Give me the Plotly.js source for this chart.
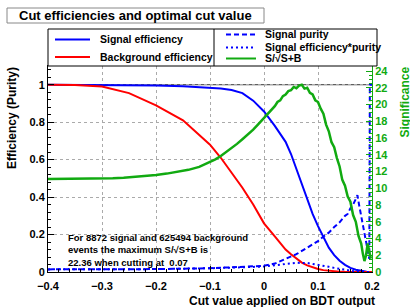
<!DOCTYPE html>
<html><head><meta charset="utf-8">
<script src="https://cdn.plot.ly/plotly-3.0.1.min.js"></script>
<style>html,body{margin:0;padding:0;background:#fff}</style>
</head><body><div id="chart" style="width:410px;height:307px"></div>
<script>
// ---- data ----
const effX   = [-0.40,-0.35,-0.30,-0.25,-0.20,-0.15,-0.10,-0.08,-0.06,-0.04,-0.02,0.00,0.02,0.04,0.05,0.06,0.07,0.08,0.09,0.10,0.11,0.12,0.13,0.14,0.15,0.16,0.17,0.18,0.19,0.20];
const sigEff = [1.000,1.000,0.999,0.998,0.996,0.992,0.985,0.980,0.972,0.955,0.915,0.857,0.780,0.695,0.630,0.550,0.460,0.385,0.310,0.245,0.185,0.130,0.090,0.060,0.038,0.022,0.012,0.005,0.001,0.000];
const bkgEff = [1.000,0.999,0.990,0.955,0.890,0.810,0.680,0.610,0.530,0.450,0.360,0.260,0.190,0.120,0.095,0.070,0.050,0.035,0.024,0.016,0.010,0.006,0.004,0.002,0.001,0.0005,0.0002,0.0001,0,0];

const purX   = [-0.40,-0.30,-0.20,-0.10,-0.05,0.00,0.02,0.04,0.06,0.08,0.10,0.11,0.12,0.13,0.14,0.15,0.155,0.16,0.165,0.17,0.173,0.176,0.18,0.185,0.19,0.193,0.195,0.196,0.198,0.20];
const purity = [0.014,0.014,0.0155,0.020,0.025,0.033,0.045,0.068,0.095,0.130,0.165,0.190,0.210,0.240,0.265,0.300,0.310,0.340,0.360,0.390,0.410,0.360,0.300,0.220,0.150,0.110,0.070,1.000,1.000,1.000];
const effPur = [0.014,0.014,0.0155,0.020,0.024,0.029,0.036,0.044,0.049,0.048,0.040,0.035,0.028,0.022,0.016,0.011,0.009,0.007,0.005,0.004,0.003,0.002,0.0015,0.001,0.0005,0.0003,0.0002,0.0001,0,0];

const sigX = [-0.40,-0.38,-0.36,-0.34,-0.32,-0.30,-0.28,-0.26,-0.24,-0.22,-0.20,-0.18,-0.16,-0.14,-0.12,-0.10,-0.09,-0.08,-0.07,-0.06,-0.05,-0.04,-0.03,-0.02,-0.01,0.000,0.005,0.010,0.015,0.020,0.025,0.030,0.035,0.040,0.045,0.050,0.055,0.060,0.065,0.070,0.075,0.080,0.085,0.090,0.095,0.100,0.105,0.110,0.115,0.120,0.125,0.130,0.135,0.140,0.145,0.150,0.155,0.160,0.165,0.170,0.175,0.180,0.183,0.186,0.189,0.192,0.195,0.198];
const significance = [11.12,11.12,11.12,11.13,11.14,11.16,11.20,11.26,11.34,11.45,11.58,11.75,11.95,12.2,12.55,13.1,13.45,13.85,14.3,14.8,15.3,15.85,16.4,17.0,17.7,18.4,18.8,19.1,19.55,19.8,20.3,20.5,21.0,21.2,21.6,21.7,22.1,21.95,22.25,22.36,21.9,22.0,21.4,21.2,20.5,20.3,19.5,18.9,17.6,16.8,15.5,14.9,13.6,12.6,11.0,10.3,9.0,8.4,6.8,6.0,4.3,3.4,2.2,1.3,2.0,3.4,2.4,1.6];

const xTicks = [-0.4,-0.3,-0.2,-0.1,0,0.1,0.2];
const xTickText = ['\u22120.4','\u22120.3','\u22120.2','\u22120.1','0','0.1','0.2'];
const yTicks = [0,0.2,0.4,0.6,0.8,1];
const yTickText = ['0','0.2','0.4','0.6','0.8','1'];
const y2Ticks = [0,2,4,6,8,10,12,14,16,18,20,22,24];

const legendLabels = ['Signal efficiency','Background efficiency','Signal purity','Signal efficiency*purity','S/\u221AS+B'];
const titleText = 'Cut efficiencies and optimal cut value';
const infoText = 'For 8872 signal and 625494 background<br>events the maximum S/\u221AS+B is<br>22.36 when cutting at  0.07';

// ---- styling ----
const F = 'Liberation Sans, Arial, Helvetica, sans-serif';
const GREEN = '#11aa11';
const px = x => (x-48)/324;
const py = y => (272-y)/206;

const traces = [
  {x:effX, y:sigEff, mode:'lines', line:{color:'#0000ff', width:2}},
  {x:effX, y:bkgEff, mode:'lines', line:{color:'#ff0000', width:2}},
  {x:purX, y:purity, mode:'lines', line:{color:'#0000ff', width:2, dash:'5px,3px'}},
  {x:purX, y:effPur, mode:'lines', line:{color:'#0000ff', width:2, dash:'2px,3px'}},
  {x:sigX, y:significance, mode:'lines', yaxis:'y2', line:{color:GREEN, width:2.5}}
];

const shapes = [
  {type:'line', xref:'x', yref:'y', x0:-0.4, x1:0.2, y0:1, y1:1, line:{color:'#333', width:1}, layer:'below'},
  // title box
  {type:'rect', xref:'paper', yref:'paper', x0:px(7), x1:px(264), y0:py(23), y1:py(8), line:{color:'#888', width:1}, fillcolor:'#fff'},
  // legend box
  {type:'rect', xref:'paper', yref:'paper', x0:px(48), x1:px(377), y0:py(66), y1:py(29), line:{color:'#000', width:1}, fillcolor:'#fff'},
  {type:'line', xref:'paper', yref:'paper', x0:px(214), x1:px(214), y0:py(66), y1:py(29), line:{color:'#000', width:1}},
  // legend samples
  {type:'line', xref:'paper', yref:'paper', x0:px(55), x1:px(90), y0:py(39.5), y1:py(39.5), line:{color:'#0000ff', width:2}},
  {type:'line', xref:'paper', yref:'paper', x0:px(55), x1:px(90), y0:py(57), y1:py(57), line:{color:'#ff0000', width:2}},
  {type:'line', xref:'paper', yref:'paper', x0:px(226), x1:px(256), y0:py(34.5), y1:py(34.5), line:{color:'#0000ff', width:2, dash:'5px,3px'}},
  {type:'line', xref:'paper', yref:'paper', x0:px(226), x1:px(256), y0:py(47.5), y1:py(47.5), line:{color:'#0000ff', width:2, dash:'2px,3px'}},
  {type:'line', xref:'paper', yref:'paper', x0:px(226), x1:px(256), y0:py(58.5), y1:py(58.5), line:{color:GREEN, width:2}}
];

const lf = {family:F, size:10.5, color:'#000', weight:'bold'};
const annotations = [
  {xref:'paper', yref:'paper', x:px(17), y:py(15.5), xanchor:'left', yanchor:'middle', text:titleText, showarrow:false, font:{family:F, size:13, color:'#000', weight:'bold'}},
  {xref:'paper', yref:'paper', x:px(98), y:py(39.5), xanchor:'left', yanchor:'middle', text:legendLabels[0], showarrow:false, font:lf},
  {xref:'paper', yref:'paper', x:px(98), y:py(57), xanchor:'left', yanchor:'middle', text:legendLabels[1], showarrow:false, font:lf},
  {xref:'paper', yref:'paper', x:px(263), y:py(34), xanchor:'left', yanchor:'middle', text:legendLabels[2], showarrow:false, font:lf},
  {xref:'paper', yref:'paper', x:px(263), y:py(47.5), xanchor:'left', yanchor:'middle', text:legendLabels[3], showarrow:false, font:lf},
  {xref:'paper', yref:'paper', x:px(263), y:py(58.5), xanchor:'left', yanchor:'middle', text:legendLabels[4], showarrow:false, font:lf},
  {xref:'paper', yref:'paper', x:px(66), y:py(250), xanchor:'left', yanchor:'middle', align:'left', text:infoText, showarrow:false, font:{family:F, size:9.5, color:'#000', weight:'bold'}},
  {xref:'paper', yref:'paper', x:px(377), y:py(301), xanchor:'right', yanchor:'middle', text:'Cut value applied on BDT output', showarrow:false, font:{family:F, size:12, color:'#000', weight:'bold'}},
  {xref:'paper', yref:'paper', x:px(12), y:py(65), xanchor:'center', yanchor:'top', textangle:-90, text:'Efficiency (Purity)', showarrow:false, font:{family:F, size:12, color:'#000', weight:'bold'}},
  {xref:'paper', yref:'paper', x:px(404), y:py(65), xanchor:'center', yanchor:'top', textangle:-90, text:'Significance', showarrow:false, font:{family:F, size:12, color:GREEN, weight:'bold'}}
];

const layout = {
  width:410, height:307, autosize:false,
  margin:{l:48, r:38, t:66, b:35, pad:0},
  paper_bgcolor:'#fff', plot_bgcolor:'#fff',
  showlegend:false,
  font:{family:F, size:11, color:'#000', weight:'bold'},
  xaxis:{range:[-0.4,0.2], tickvals:xTicks, ticktext:xTickText, ticks:'inside', ticklen:6, tickcolor:'#000',
         ticklabelstandoff:4,
         showline:true, linecolor:'#000', linewidth:1, mirror:true, zeroline:false,
         showgrid:true, gridcolor:'#aaa', griddash:'dot', gridwidth:1,
         tickfont:{family:F, size:11, color:'#000', weight:'bold'},
         minor:{tick0:-0.4, dtick:0.02, ticks:'inside', ticklen:3, tickcolor:'#000', showgrid:false}},
  yaxis:{range:[0,1.1], tickvals:yTicks, ticktext:yTickText, ticks:'inside', ticklen:6, tickcolor:'#000',
         showline:true, linecolor:'#000', linewidth:1, mirror:false, zeroline:false,
         showgrid:true, gridcolor:'#aaa', griddash:'dot', gridwidth:1,
         tickfont:{family:F, size:11, color:'#000', weight:'bold'},
         minor:{tick0:0, dtick:0.04, ticks:'inside', ticklen:3, tickcolor:'#000', showgrid:false}},
  yaxis2:{overlaying:'y', side:'right', range:[0,24.6], tickvals:y2Ticks, ticks:'inside', ticklen:6, tickcolor:GREEN,
         showline:true, linecolor:GREEN, linewidth:1, zeroline:false, showgrid:false,
         tickfont:{family:F, size:11, color:GREEN, weight:'bold'},
         minor:{tick0:0, dtick:0.5, ticks:'inside', ticklen:3, tickcolor:GREEN, showgrid:false}},
  shapes:shapes,
  annotations:annotations
};

Plotly.newPlot('chart', traces, layout, {staticPlot:true, displayModeBar:false});
</script>
</body></html>
